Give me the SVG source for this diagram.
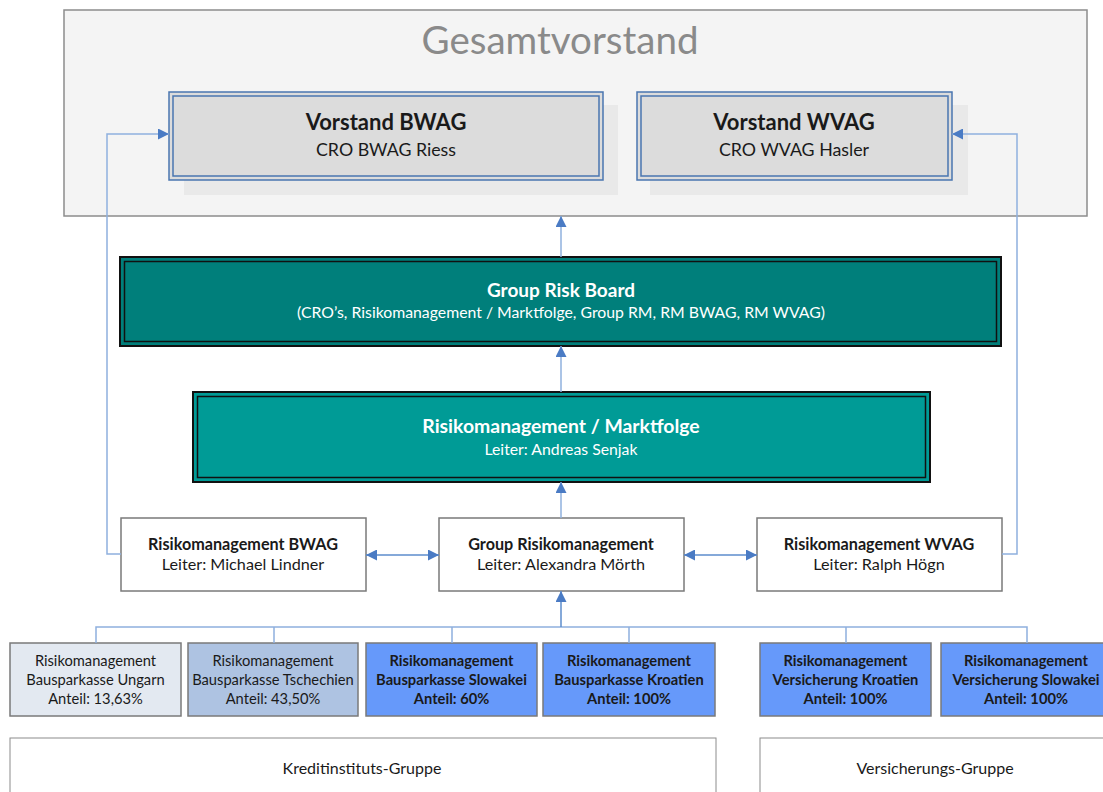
<svg xmlns="http://www.w3.org/2000/svg" width="1103" height="792" viewBox="0 0 1103 792">
<style>
text{font-family:Lato,"Open Sans","Liberation Sans",sans-serif;text-anchor:middle}
.t{font-weight:bold}
.w{fill:#fff}
.k{fill:#1a1a1a}
.m{font-size:16.2px}
.s{font-size:14.7px}
.ln{fill:none;stroke:#8fb0de;stroke-width:1.5}
.ar{fill:none;stroke:#5c8ccc;stroke-width:1.5}
.box{fill:#fff;stroke:#7a7a7a;stroke-width:1.5}
.sub{stroke:#7a7a7a;stroke-width:1.5}
</style>
<defs>
<marker id="ah" viewBox="0 0 10 10" refX="10" refY="5" markerWidth="11" markerHeight="11" markerUnits="userSpaceOnUse" orient="auto-start-reverse">
<path d="M0,0 L10,5 L0,10 z" fill="#4a7bc4"/>
</marker>
</defs>
<g id="gesamtvorstand">
<rect x="64" y="10" width="1023" height="206" fill="#f4f4f4" stroke="#8c8c8c" stroke-width="1.5"/>
<text x="560" y="54" font-size="38.5" fill="#8a8a8a">Gesamtvorstand</text>
</g>
<g id="vorstand-bwag">
<rect x="184" y="105" width="434" height="90" fill="#e6e6e6" opacity="0.8"/>
<rect x="169" y="92" width="434" height="88" fill="#dcdcdc" stroke="#4a76b0" stroke-width="1.5"/>
<rect x="173" y="96" width="426" height="80" fill="none" stroke="#4a76b0" stroke-width="1.5"/>
<text class="t k" x="386" y="130" font-size="22">Vorstand BWAG</text>
<text class="k" x="386" y="156" font-size="17.8">CRO BWAG Riess</text>
</g>
<g id="vorstand-wvag">
<rect x="650" y="105" width="318" height="90" fill="#e6e6e6" opacity="0.8"/>
<rect x="637" y="92" width="315" height="88" fill="#dcdcdc" stroke="#4a76b0" stroke-width="1.5"/>
<rect x="641" y="96" width="307" height="80" fill="none" stroke="#4a76b0" stroke-width="1.5"/>
<text class="t k" x="794" y="130" font-size="22">Vorstand WVAG</text>
<text class="k" x="794" y="156" font-size="17.8">CRO WVAG Hasler</text>
</g>
<g id="group-risk-board">
<rect x="120" y="257" width="881" height="89" fill="#007f7b" stroke="#111" stroke-width="2"/>
<rect x="124.5" y="261.5" width="872" height="80" fill="none" stroke="#111" stroke-width="1.5"/>
<text class="t w" x="561" y="297" font-size="19">Group Risk Board</text>
<text class="w" x="561" y="318" font-size="15.8">(CRO’s, Risikomanagement / Marktfolge, Group RM, RM BWAG, RM WVAG)</text>
</g>
<g id="rm-marktfolge">
<rect x="193" y="392" width="737" height="90" fill="#009b96" stroke="#111" stroke-width="2"/>
<rect x="197.5" y="396.5" width="728" height="81" fill="none" stroke="#111" stroke-width="1.5"/>
<text class="t w" x="561" y="433" font-size="19.4">Risikomanagement / Marktfolge</text>
<text class="w" x="561" y="455" font-size="15.8">Leiter: Andreas Senjak</text>
</g>
<g id="rm-bwag">
<rect class="box" x="121" y="518" width="245" height="73"/>
<text class="t k m" x="243" y="550">Risikomanagement BWAG</text>
<text class="k m" x="243" y="570">Leiter: Michael Lindner</text>
</g>
<g id="group-rm">
<rect class="box" x="439" y="518" width="245" height="73"/>
<text class="t k m" x="561" y="550">Group Risikomanagement</text>
<text class="k m" x="561" y="570">Leiter: Alexandra Mörth</text>
</g>
<g id="rm-wvag">
<rect class="box" x="757" y="518" width="245" height="73"/>
<text class="t k m" x="879" y="550">Risikomanagement WVAG</text>
<text class="k m" x="879" y="570">Leiter: Ralph Högn</text>
</g>
<g id="bsk-ungarn">
<rect class="sub" x="10" y="643" width="171" height="73" fill="#e3e9f1"/>
<text class="k s" x="95.5" y="666">Risikomanagement</text>
<text class="k s" x="95.5" y="685">Bausparkasse Ungarn</text>
<text class="k s" x="95.5" y="704">Anteil: 13,63%</text>
</g>
<g id="bsk-tschechien">
<rect class="sub" x="188" y="643" width="170" height="73" fill="#aec3e2"/>
<text class="k s" x="273" y="666">Risikomanagement</text>
<text class="k s" x="273" y="685">Bausparkasse Tschechien</text>
<text class="k s" x="273" y="704">Anteil: 43,50%</text>
</g>
<g id="bsk-slowakei">
<rect class="sub" x="366" y="643" width="171" height="73" fill="#6699fa"/>
<text class="t k s" x="451.5" y="666">Risikomanagement</text>
<text class="t k s" x="451.5" y="685">Bausparkasse Slowakei</text>
<text class="t k s" x="451.5" y="704">Anteil: 60%</text>
</g>
<g id="bsk-kroatien">
<rect class="sub" x="543" y="643" width="172" height="73" fill="#6699fa"/>
<text class="t k s" x="629" y="666">Risikomanagement</text>
<text class="t k s" x="629" y="685">Bausparkasse Kroatien</text>
<text class="t k s" x="629" y="704">Anteil: 100%</text>
</g>
<g id="vers-kroatien">
<rect class="sub" x="760" y="643" width="171" height="73" fill="#6699fa"/>
<text class="t k s" x="845.5" y="666">Risikomanagement</text>
<text class="t k s" x="845.5" y="685">Versicherung Kroatien</text>
<text class="t k s" x="845.5" y="704">Anteil: 100%</text>
</g>
<g id="vers-slowakei">
<rect class="sub" x="941" y="643" width="171" height="73" fill="#6699fa"/>
<text class="t k s" x="1026" y="666">Risikomanagement</text>
<text class="t k s" x="1026" y="685">Versicherung Slowakei</text>
<text class="t k s" x="1026" y="704">Anteil: 100%</text>
</g>
<g id="kreditinstituts-gruppe">
<rect x="10" y="738" width="706" height="70" fill="#fff" stroke="#8c8c8c" stroke-width="1"/>
<text class="k" x="362" y="774" font-size="16">Kreditinstituts-Gruppe</text>
</g>
<g id="versicherungs-gruppe">
<rect x="760" y="738" width="360" height="70" fill="#fff" stroke="#8c8c8c" stroke-width="1"/>
<text class="k" x="935" y="774" font-size="16">Versicherungs-Gruppe</text>
</g>
<g id="connectors">
<path class="ln" d="M121,554 H107 V134 H169" marker-end="url(#ah)"/>
<path class="ln" d="M1002,554 H1017 V134 H952" marker-end="url(#ah)"/>
<path class="ln" d="M561,257 V216" marker-end="url(#ah)"/>
<path class="ln" d="M561,392 V346" marker-end="url(#ah)"/>
<path class="ln" d="M561,518 V482" marker-end="url(#ah)"/>
<path class="ar" d="M366,555 H439" marker-start="url(#ah)" marker-end="url(#ah)"/>
<path class="ar" d="M684,555 H757" marker-start="url(#ah)" marker-end="url(#ah)"/>
<path class="ln" d="M96,643 V627 H1027 V643 M274,627 V643 M452,627 V643 M629,627 V643 M846,627 V643"/>
<path class="ar" d="M561,627 V591" marker-end="url(#ah)"/>
</g>
</svg>
